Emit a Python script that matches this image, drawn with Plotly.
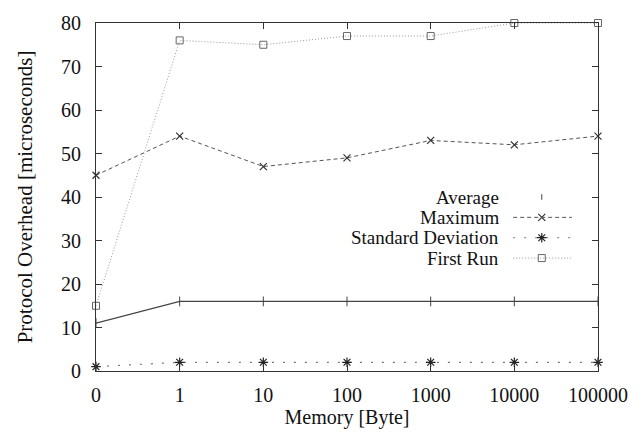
import plotly.graph_objects as go

categories = ["0", "1", "10", "100", "1000", "10000", "100000"]
average = [11, 16, 16, 16, 16, 16, 16]
maximum = [45, 54, 47, 49, 53, 52, 54]
std_dev = [1, 2, 2, 2, 2, 2, 2]
first_run = [15, 76, 75, 77, 77, 80, 80]
y_ticks = [0, 10, 20, 30, 40, 50, 60, 70, 80]

FONT = "Liberation Serif"

series = [
    ("Average", average, dict(color="#444", width=1.2, dash="solid"),
     dict(symbol="line-ns-open", size=7, color="#444", line=dict(color="#444", width=1))),
    ("Maximum", maximum, dict(color="#555", width=1, dash="4px,3px"),
     dict(symbol="x-thin-open", size=7, color="#333", line=dict(color="#333", width=1.2))),
    ("Standard Deviation", std_dev, dict(color="#777", width=1.2, dash="2px,9px"),
     dict(symbol="asterisk-open", size=8, color="#222", line=dict(color="#222", width=1.2))),
    ("First Run", first_run, dict(color="#999", width=1, dash="1px,2px"),
     dict(symbol="square-open", size=7, color="#666", line=dict(color="#666", width=1))),
]

fig = go.Figure()
for name, vals, ln, mk in series:
    fig.add_trace(go.Scatter(x=categories, y=vals, mode="lines+markers",
                             name=name, line=ln, marker=mk, showlegend=False,
                             cliponaxis=False))

# custom gnuplot-style legend (text right-aligned, sample to the right)
leg_y = [0.5, 0.4415, 0.383, 0.3245]
for (name, vals, ln, mk), yy in zip(series, leg_y):
    fig.add_annotation(xref="paper", yref="paper", x=0.805, y=yy, text=name,
                       showarrow=False, xanchor="right", yanchor="middle",
                       height=21, borderpad=0,
                       font=dict(family=FONT, size=19, color="#111"))
    if name != "Average":
        fig.add_shape(type="line", xref="paper", yref="paper",
                      x0=0.831, x1=0.948, y0=yy, y1=yy,
                      line=dict(color=ln["color"], width=1, dash=ln["dash"]))
    mk_leg = dict(mk)
    if name == "Average":
        mk_leg["size"] = 4
    fig.add_trace(go.Scatter(x=[0.888], y=[yy], xaxis="x2", yaxis="y2",
                             mode="markers", marker=mk_leg, showlegend=False,
                             hoverinfo="skip"))

axis_common = dict(showgrid=False, zeroline=False, showline=True,
                   linecolor="#333", linewidth=1, mirror="ticks",
                   ticks="inside", ticklen=6, tickcolor="#333",
                   tickfont=dict(family=FONT, size=20, color="#111"))

fig.update_layout(
    width=641, height=432,
    margin=dict(l=96, r=43, t=15, b=57),
    plot_bgcolor="white", paper_bgcolor="white",
    xaxis=dict(**axis_common, type="category", range=[0, 6],
               ticklabelstandoff=6,
               title=dict(text="Memory [Byte]", standoff=0,
                          font=dict(family=FONT, size=20, color="#111"))),
    yaxis=dict(**axis_common, range=[0, 80], tickvals=y_ticks,
               ticklabelstandoff=10,
               title=dict(text="Protocol Overhead [microseconds]", standoff=22,
                          font=dict(family=FONT, size=21, color="#111"))),
    xaxis2=dict(range=[0, 1], visible=False, overlaying="x", anchor="y2"),
    yaxis2=dict(range=[0, 1], visible=False, overlaying="y", anchor="x2"),
)

fig.write_html("out.html")
